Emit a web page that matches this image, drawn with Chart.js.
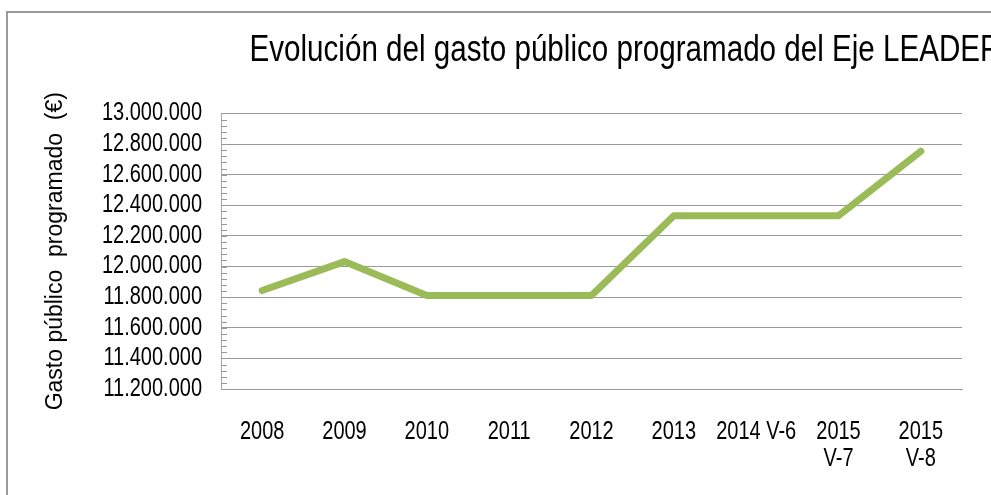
<!DOCTYPE html>
<html>
<head>
<meta charset="utf-8">
<script src="https://cdn.jsdelivr.net/npm/chart.js@4"></script>
<style>
  html, body { margin: 0; padding: 0; background: #fff; overflow: hidden; }
  #wrap { position: absolute; left: 0; top: 0; width: 1251px; height: 495px; }
  #marco { position: absolute; left: 6px; top: 11px; width: 1400px; height: 600px;
           border-left: 2px solid #9a9a9a; border-top: 2px solid #9a9a9a; pointer-events: none; }
</style>
</head>
<body>
<div id="wrap"><canvas id="lineChart"></canvas></div>
<div id="marco"></div>
<script>
// datos del grafico
const categorias = ["2008", "2009", "2010", "2011", "2012", "2013", "2014 V-6", ["2015", "V-7"], ["2015", "V-8"]];
const gastoProgramado = [11843000, 12032000, 11811000, 11811000, 11811000, 12331000, 12331000, 12331000, 12753000];
const ejeMin = 11200000;
const ejeMax = 13000000;
const pasoMayor = 200000;
const pasoMenor = 40000;

// no hay Arial Narrow instalada: se estrecha Liberation Sans al dibujar
const fuenteEstrecha = "'Liberation Sans', 'Arimo', Arial, sans-serif, narrow";
const factorEstrecho = 0.8;

function formatoMiles(v) {
    return String(v).replace(/\B(?=(\d{3})+(?!\d))/g, ".");
}

const ctx = document.getElementById("lineChart").getContext("2d");

// fillText con maxWidth comprime el texto en horizontal
const fillTextOriginal = ctx.fillText.bind(ctx);
ctx.fillText = function (texto, x, y, maxWidth) {
    if (ctx.font.indexOf("narrow") !== -1) {
        const ancho = ctx.measureText(texto).width * factorEstrecho;
        maxWidth = maxWidth === undefined ? ancho : Math.min(maxWidth, ancho);
    }
    if (maxWidth === undefined) {
        fillTextOriginal(texto, x, y);
    } else {
        fillTextOriginal(texto, x, y, maxWidth);
    }
};

// marcas menores hacia dentro del eje Y
const marcasMenores = {
    id: "marcasMenores",
    afterDraw(chart) {
        const y = chart.scales.y;
        const c = chart.ctx;
        const x0 = chart.chartArea.left;
        c.save();
        c.strokeStyle = "#9a9a9a";
        c.lineWidth = 1;
        c.beginPath();
        for (let v = ejeMin; v <= ejeMax; v += pasoMenor) {
            const py = Math.round(y.getPixelForValue(v)) + 0.5;
            c.moveTo(x0, py);
            c.lineTo(x0 + 6, py);
        }
        c.stroke();
        c.restore();
    }
};

const grafico = new Chart(ctx, {
    type: "line",
    data: {
        labels: categorias,
        datasets: [
            {
                label: "Gasto público programado",
                data: gastoProgramado,
                borderColor: "#9BBB59",
                backgroundColor: "#9BBB59",
                borderWidth: 7,
                borderCapStyle: "round",
                borderJoinStyle: "round",
                pointRadius: 0,
                tension: 0
            }
        ]
    },
    options: {
        responsive: true,
        maintainAspectRatio: false,
        animation: false,
        layout: {
            padding: { left: 0, right: 0, top: 0, bottom: 20 }
        },
        plugins: {
            legend: { display: false },
            tooltip: { enabled: false },
            title: {
                display: true,
                text: "Evolución del gasto público programado del Eje LEADER",
                color: "#000",
                font: { family: fuenteEstrecha, size: 37, weight: "normal" },
                padding: { top: 29, bottom: 40 }
            }
        },
        scales: {
            x: {
                offset: true,
                afterFit(scale) { scale.height = 86; },
                grid: { display: false, drawTicks: false },
                border: { display: true, color: "#9a9a9a", width: 1 },
                ticks: {
                    color: "#000",
                    font: { family: fuenteEstrecha, size: 25, lineHeight: 1.08 },
                    padding: 30,
                    maxRotation: 0,
                    autoSkip: false
                }
            },
            y: {
                min: ejeMin,
                max: ejeMax,
                afterFit(scale) { scale.width = 221; },
                grid: { color: "#9a9a9a", drawTicks: false },
                border: { display: true, color: "#a8a8a8", width: 1 },
                ticks: {
                    stepSize: pasoMayor,
                    autoSkip: false,
                    color: "#000",
                    padding: 19,
                    font: { family: fuenteEstrecha, size: 25 },
                    callback: (v) => formatoMiles(v)
                },
                title: {
                    display: true,
                    text: "Gasto público  programado  (€)",
                    color: "#000",
                    font: { family: "'Liberation Sans', Arial, sans-serif", size: 23 },
                    padding: { top: 42, bottom: 0 }
                }
            },
            // eje vacio a la derecha: deja el titulo cortado por el borde como en el original
            derecha: {
                type: "linear",
                position: "right",
                min: ejeMin,
                max: ejeMax,
                afterFit(scale) { scale.width = 289; },
                grid: { display: false, drawTicks: false },
                border: { display: false },
                ticks: { display: false }
            }
        }
    },
    plugins: [marcasMenores]
});
</script>
</body>
</html>
